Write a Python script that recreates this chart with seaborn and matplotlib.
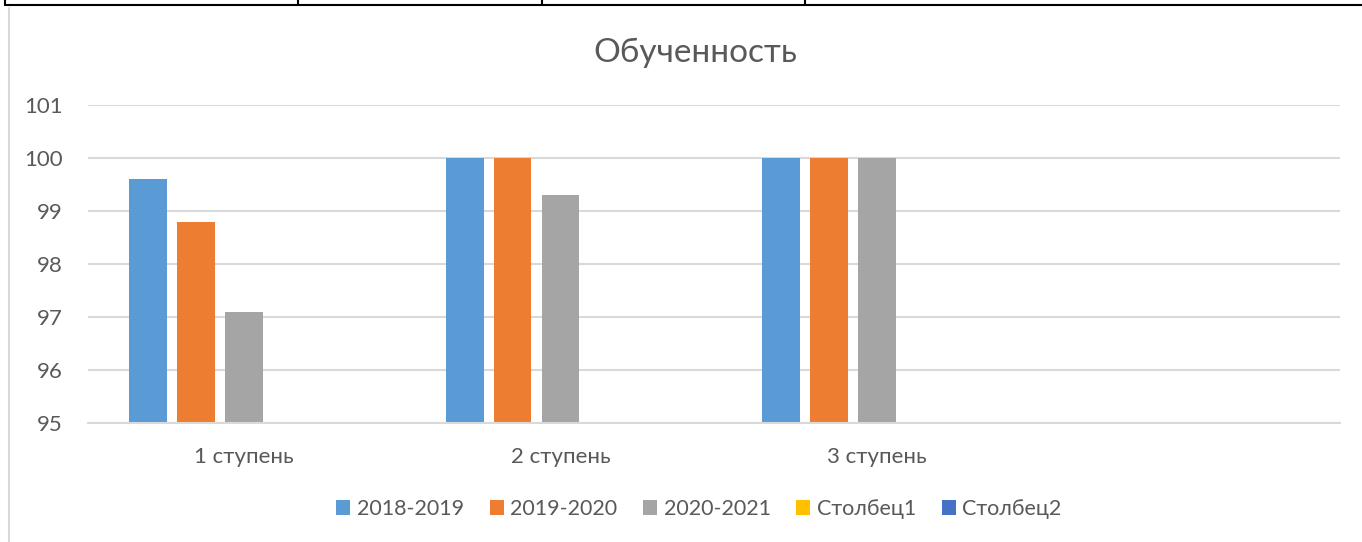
import pandas as pd
import matplotlib.pyplot as plt
import seaborn as sns
from matplotlib.patches import Patch
from matplotlib.lines import Line2D

# data
categories = ['1 ступень', '2 ступень', '3 ступень', ' ']
series = ['2018-2019', '2019-2020', '2020-2021', 'Столбец1', 'Столбец2']
colors = ['#5b9bd5', '#ed7d31', '#a5a5a5', '#ffc000', '#4472c4']
v_2018 = [99.6, 100, 100, None]
v_2019 = [98.8, 100, 100, None]
v_2020 = [97.1, 99.3, 100, None]
v_col1 = [None, None, None, None]
v_col2 = [None, None, None, None]
y_ticks = [95, 96, 97, 98, 99, 100, 101]

rows = []
for name, vals in zip(series, [v_2018, v_2019, v_2020, v_col1, v_col2]):
    for cat, v in zip(categories, vals):
        rows.append({'cat': cat, 'series': name, 'value': v})
df = pd.DataFrame(rows)

sns.set_style('white')
plt.rcParams['font.family'] = ['Lato', 'DejaVu Sans']
text_col = '#595959'

fig = plt.figure(figsize=(13.62, 5.42), dpi=100)
ax = fig.add_axes([88 / 1362, 1 - 423 / 542, (1340 - 88) / 1362, (423 - 105) / 542])

sns.barplot(data=df.dropna(), x='cat', y='value', hue='series', order=categories,
            hue_order=series, palette=colors, saturation=1, width=0.758, gap=0.21,
            linewidth=0, ax=ax, legend=False, errorbar=None)

ax.set_ylim(95, 101)
ax.set_yticks(y_ticks)
ax.set_xlim(-0.493, 3.463)
ax.yaxis.grid(True, color='#d9d9d9', linewidth=1.5)
ax.set_axisbelow(True)
for s in ['top', 'right', 'left']:
    ax.spines[s].set_visible(False)
ax.spines['bottom'].set_color('#d9d9d9')
ax.spines['bottom'].set_linewidth(1.5)
ax.tick_params(axis='both', length=0, labelsize=16, colors=text_col)
ax.tick_params(axis='y', pad=18)
ax.tick_params(axis='x', pad=17)
ax.set_xlabel('')
ax.set_ylabel('')

fig.text(695 / 1362, 1 - 53 / 542, 'Обученность', ha='center', va='center',
         fontsize=24, color=text_col)

handles = [Patch(facecolor=c, edgecolor='none') for c in colors]
fig.legend(handles, series, loc='center', bbox_to_anchor=(699 / 1362, 1 - 509 / 542),
           ncol=5, frameon=False, fontsize=15.5, handlelength=0.65, handleheight=0.65,
           handletextpad=0.3, columnspacing=1.2, labelcolor=text_col)

# sheet borders behind the chart
fig.add_artist(Line2D([5 / 1362, 1], [1 - 5 / 542, 1 - 5 / 542], color='black', lw=1.5))
fig.add_artist(Line2D([5 / 1362, 5 / 1362], [1, 1 - 5 / 542], color='black', lw=1.5))
for xv in [298, 542, 805]:
    fig.add_artist(Line2D([xv / 1362, xv / 1362], [1, 1 - 5 / 542], color='black', lw=1.5))
fig.add_artist(Line2D([9 / 1362, 9 / 1362], [0, 1 - 8 / 542], color='#d9d9d9', lw=1.5))

fig.savefig('out.png', dpi=100)
